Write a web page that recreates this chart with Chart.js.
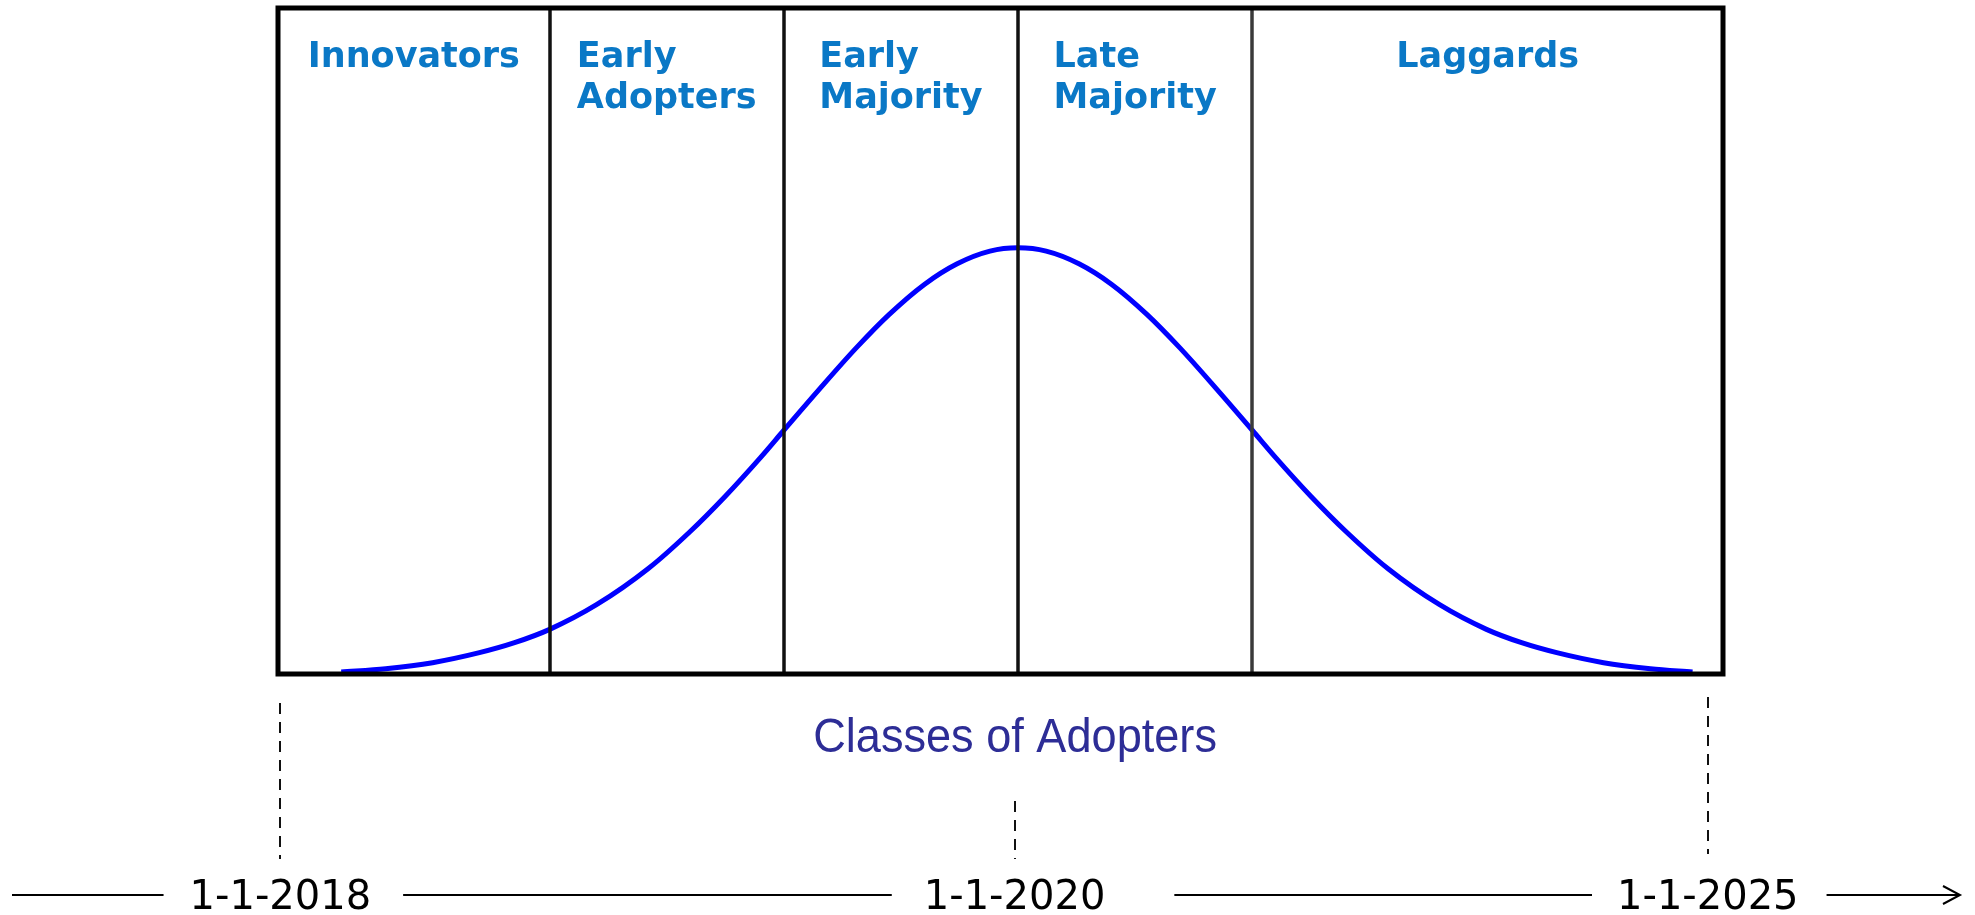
<!DOCTYPE html>
<html>
<head>
<meta charset="utf-8">
<title>Classes of Adopters</title>
<script src="https://cdn.jsdelivr.net/npm/chart.js@4.4.0/dist/chart.umd.min.js"></script>
<style>
    html, body { margin: 0; padding: 0; background: #fff; }
    #wrap { width: 1975px; height: 915px; }
</style>
</head>
<body>
<div id="wrap"><canvas id="adoptionChart" width="1975" height="915"></canvas></div>
<script>
// ==========================
// DATA
// ==========================

// x is measured in standard deviations from the mean, y in % of plot height
const classNames = [['Innovators'], ['Early', 'Adopters'], ['Early', 'Majority'], ['Late', 'Majority'], ['Laggards']];
const dividerAt = [-2, -1, 0, 1];

const curveX = [-2.89, -2.70, -2.50, -2.30, -2.15, -2.00, -1.80, -1.58, -1.40, -1.25, -1.10, -1.00, -0.85, -0.69, -0.55, -0.40, -0.26, -0.12, 0,
                0.12, 0.26, 0.40, 0.55, 0.69, 0.85, 1.00, 1.10, 1.25, 1.40, 1.58, 1.80, 2.00, 2.15, 2.30, 2.50, 2.70, 2.88];
const curveY = [0.3, 0.8, 1.7, 3.2, 4.7, 6.7, 10.4, 15.8, 21.4, 26.7, 32.5, 36.6, 42.7, 49.0, 54.0, 58.5, 61.6, 63.5, 64.0,
                63.5, 61.6, 58.5, 54.0, 49.0, 42.7, 36.6, 32.5, 26.7, 21.4, 15.8, 10.4, 6.7, 4.7, 3.2, 1.7, 0.8, 0.3];

const timelineLabels = ['1-1-2018', '1-1-2020', '1-1-2025'];
const timelineAt = [-3.15, -0.015, 2.945];

const axisTitle = 'Classes of Adopters';
const xMin = -3.16, xMax = 3.01;

// ==========================
// DECORATION PLUGIN
// ==========================

const adopterDecor = {
    id: 'adopterDecor',
    afterDatasetsDraw(chart) {
        const { ctx, chartArea: a, scales: { x } } = chart;
        ctx.save();

        // class dividers
        ctx.lineWidth = 3.5;
        dividerAt.forEach((v, i) => {
            const px = Math.round(x.getPixelForValue(v));
            ctx.strokeStyle = i === 3 ? '#3a3a3a' : '#111';
            ctx.beginPath();
            ctx.moveTo(px, a.top);
            ctx.lineTo(px, a.bottom);
            ctx.stroke();
        });

        // frame
        ctx.strokeStyle = '#000';
        ctx.lineWidth = 5;
        ctx.strokeRect(a.left, a.top, a.right - a.left, a.bottom - a.top);

        // class names
        ctx.fillStyle = '#0a78c6';
        ctx.font = 'bold 35px "DejaVu Sans"';
        ctx.textAlign = 'left';
        ctx.textBaseline = 'alphabetic';
        const edges = [xMin, ...dividerAt, xMax];
        classNames.forEach((lines, i) => {
            const cx = (x.getPixelForValue(edges[i]) + x.getPixelForValue(edges[i + 1])) / 2;
            const w = Math.max(...lines.map(l => ctx.measureText(l).width));
            lines.forEach((l, j) => ctx.fillText(l, cx - w / 2, 67 + j * 41));
        });

        // axis title
        ctx.save();
        ctx.translate(x.getPixelForValue(0) - 3, 752);
        ctx.scale(0.94, 1);
        ctx.fillStyle = '#2d2d96';
        ctx.font = '48px "Liberation Sans"';
        ctx.textAlign = 'center';
        ctx.fillText(axisTitle, 0, 0);
        ctx.restore();

        // dashed drop lines
        const dashY = [[703, 859], [801, 859], [697, 854]];
        ctx.strokeStyle = '#111';
        ctx.lineWidth = 2;
        ctx.setLineDash([11, 8]);
        timelineAt.forEach((v, i) => {
            const px = Math.round(x.getPixelForValue(v));
            ctx.beginPath();
            ctx.moveTo(px, dashY[i][0]);
            ctx.lineTo(px, dashY[i][1]);
            ctx.stroke();
        });
        ctx.setLineDash([]);

        // timeline
        const lineY = 895;
        const gaps = [[26, 32], [32, 69], [25, 28]];
        ctx.font = '40px "DejaVu Sans"';
        ctx.fillStyle = '#000';
        ctx.strokeStyle = '#000';
        ctx.textAlign = 'center';
        let from = 12;
        timelineLabels.forEach((t, i) => {
            const cx = x.getPixelForValue(timelineAt[i]);
            const hw = ctx.measureText(t).width / 2;
            ctx.fillText(t, cx, 909);
            ctx.beginPath();
            ctx.moveTo(from, lineY);
            ctx.lineTo(cx - hw - gaps[i][0], lineY);
            ctx.stroke();
            from = cx + hw + gaps[i][1];
        });
        ctx.beginPath();
        ctx.moveTo(from, lineY);
        ctx.lineTo(1960, lineY);
        ctx.moveTo(1943, lineY - 9);
        ctx.lineTo(1960, lineY);
        ctx.lineTo(1943, lineY + 9);
        ctx.stroke();

        ctx.restore();
    }
};

// ==========================
// CHART
// ==========================

const ctx = document.getElementById('adoptionChart').getContext('2d');

new Chart(ctx, {
    type: 'line',
    data: {
        datasets: [{
            data: curveX.map((v, i) => ({ x: v, y: curveY[i] })),
            borderColor: '#0000ff',
            borderWidth: 5,
            pointRadius: 0,
            fill: false,
            cubicInterpolationMode: 'monotone'
        }]
    },
    options: {
        responsive: false,
        animation: false,
        events: [],
        layout: { padding: { left: 278, right: 252, top: 8, bottom: 241 } },
        scales: {
            x: { type: 'linear', min: xMin, max: xMax, display: false },
            y: { min: 0, max: 100, display: false }
        },
        plugins: {
            legend: { display: false },
            tooltip: { enabled: false }
        }
    },
    plugins: [adopterDecor]
});
</script>
</body>
</html>
